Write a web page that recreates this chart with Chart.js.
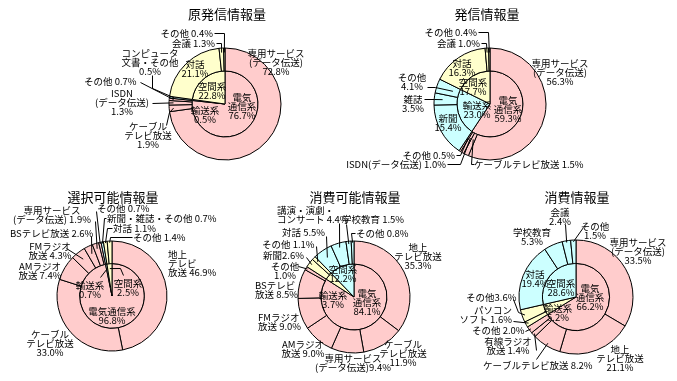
<!DOCTYPE html>
<html>
<head>
<meta charset="utf-8">
<script src="https://cdn.jsdelivr.net/npm/chart.js@4.4.1/dist/chart.umd.min.js"></script>
<style>
  body { margin: 0; background: #fff; }
  canvas { position: absolute; left: 0; top: 0; }
</style>
</head>
<body>
<canvas id="c1" width="677" height="381"></canvas>
<canvas id="c2" width="677" height="381"></canvas>
<canvas id="c3" width="677" height="381"></canvas>
<canvas id="c4" width="677" height="381"></canvas>
<canvas id="c5" width="677" height="381"></canvas>
<script>
// inner pie categories (same for every chart)
var innerLabels = ["電気通信系", "輸送系", "空間系"];

// 原発信情報量
var genLabels = ["専用サービス(データ伝送)", "ケーブルテレビ放送", "ISDN(データ伝送)", "その他", "コンピュータ文書・その他", "対話", "会議", "その他"];
var genValues = [72.8, 1.9, 1.3, 0.7, 0.5, 21.1, 1.3, 0.4];
var genGroups = [0, 0, 0, 0, 1, 2, 2, 2];
var genInner = [76.7, 0.5, 22.8];

// 発信情報量
var sendLabels = ["専用サービス(データ伝送)", "ケーブルテレビ放送", "ISDN(データ伝送)", "その他", "新聞", "雑誌", "その他", "対話", "会議", "その他"];
var sendValues = [56.3, 1.5, 1.0, 0.5, 15.4, 3.5, 4.1, 16.3, 1.0, 0.4];
var sendGroups = [0, 0, 0, 0, 1, 1, 1, 2, 2, 2];
var sendInner = [59.3, 23.0, 17.7];

// 選択可能情報量
var selLabels = ["地上テレビ放送", "ケーブルテレビ放送", "AMラジオ放送", "FMラジオ放送", "BSテレビ放送", "専用サービス(データ伝送)", "その他", "新聞・雑誌・その他", "対話", "その他"];
var selValues = [46.9, 33.0, 7.4, 4.3, 2.6, 1.9, 0.7, 0.7, 1.1, 1.4];
var selGroups = [0, 0, 0, 0, 0, 0, 0, 1, 2, 2];
var selInner = [96.8, 0.7, 2.5];

// 消費可能情報量
var availLabels = ["地上テレビ放送", "ケーブルテレビ放送", "専用サービス(データ伝送)", "AMラジオ放送", "FMラジオ放送", "BSテレビ放送", "その他", "新聞", "その他", "対話", "講演・演劇・コンサート", "学校教育", "その他"];
var availValues = [35.3, 11.9, 9.4, 9.0, 9.0, 8.5, 1.0, 2.6, 1.1, 5.5, 4.4, 1.5, 0.8];
var availGroups = [0, 0, 0, 0, 0, 0, 0, 1, 1, 2, 2, 2, 2];
var availInner = [84.1, 3.7, 12.2];

// 消費情報量
var consLabels = ["専用サービス(データ伝送)", "地上テレビ放送", "ケーブルテレビ放送", "有線ラジオ放送", "その他", "パソコンソフト", "その他", "対話", "学校教育", "会議", "その他"];
var consValues = [33.5, 21.1, 8.2, 1.4, 2.0, 1.6, 3.6, 19.4, 5.3, 2.4, 1.5];
var consGroups = [0, 0, 0, 0, 0, 1, 1, 2, 2, 2, 2];
var consInner = [66.2, 5.2, 28.6];

var PINK = "#ffcccc", YELLOW = "#ffffcc", CYAN = "#ccffff";

function labelPlugin(spec) {
    return {
        id: "pieLabels",
        afterDraw: function (chart) {
            var ctx = chart.ctx;
            ctx.save();
            ctx.fillStyle = "#000";
            ctx.textBaseline = "middle";
            ctx.font = '13px "Noto Sans CJK JP"';
            ctx.textAlign = "center";
            ctx.fillText(spec.title, spec.titleX, spec.titleY);

            ctx.font = '9.5px "Noto Sans CJK JP"';
            ctx.strokeStyle = "#000";
            ctx.lineWidth = 1;
            spec.layout.forEach(function (l) {
                var ds = l.ds || 0;
                var values = ds === 0 ? spec.values : spec.inner;
                var el = chart.getDatasetMeta(ds).data[l.i];
                var txt = l.t.replace("{v}", values[l.i].toFixed(1) + "%");
                ctx.textAlign = l.a || "center";
                txt.split("\n").forEach(function (s, k) {
                    ctx.fillText(s, l.x, l.y + k * 9);
                });
                if (l.line) {
                    var mid = (el.startAngle + el.endAngle) / 2;
                    var rr = spec.r * (l.r || 0.92);
                    ctx.beginPath();
                    ctx.moveTo(l.line[0][0] + 0.5, l.line[0][1] + 0.5);
                    for (var j = 1; j < l.line.length; j++) {
                        ctx.lineTo(l.line[j][0] + 0.5, l.line[j][1] + 0.5);
                    }
                    ctx.lineTo(el.x + Math.cos(mid) * rr, el.y + Math.sin(mid) * rr);
                    ctx.stroke();
                }
            });
            ctx.restore();
        }
    };
}

function makePie(id, spec) {
    var W = 677, H = 381, box = 70;
    var colours = spec.colours;
    return new Chart(document.getElementById(id), {
        type: "doughnut",
        data: {
            labels: spec.labels,
            datasets: [
                {
                    data: spec.values,
                    backgroundColor: spec.groups.map(function (g) { return colours[g]; }),
                    borderColor: "#000",
                    borderWidth: 1,
                    weight: 23
                },
                {
                    labels: innerLabels,
                    data: spec.inner,
                    backgroundColor: colours,
                    borderColor: "#000",
                    borderWidth: 1,
                    weight: 33
                }
            ]
        },
        options: {
            responsive: false,
            animation: false,
            events: [],
            cutout: 0,
            radius: spec.r,
            layout: {
                padding: { left: spec.cx - box, right: W - spec.cx - box, top: spec.cy - box, bottom: H - spec.cy - box }
            },
            plugins: { legend: { display: false }, tooltip: { enabled: false } }
        },
        plugins: [labelPlugin(spec)]
    });
}

makePie("c1", {
    title: "原発信情報量", titleX: 227, titleY: 14,
    cx: 225, cy: 104, r: 56,
    labels: genLabels, values: genValues, groups: genGroups, inner: genInner,
    colours: [PINK, CYAN, YELLOW],
    layout: [
        { i: 0, t: "専用サービス\n(データ伝送)\n{v}", x: 276, y: 53 },
        { i: 1, t: "ケーブル\nテレビ放送\n{v}", x: 148, y: 126, line: [[166, 125], [169, 112]] },
        { i: 2, t: "ISDN\n(データ伝送)\n{v}", x: 122, y: 93, line: [[152, 103]] },
        { i: 3, t: "その他 {v}", x: 84, y: 81, a: "left", line: [[140, 82]] },
        { i: 4, t: "コンピュータ\n文書・その他\n{v}", x: 150, y: 53, line: [[152, 75], [152, 88]] },
        { i: 5, t: "対話\n{v}", x: 195, y: 64 },
        { i: 6, t: "会議 {v}", x: 215, y: 43, a: "right", line: [[216, 43], [221, 43]] },
        { i: 7, t: "その他 {v}", x: 213, y: 33, a: "right", line: [[214, 33], [224, 33]] },
        { ds: 1, i: 0, t: "電気\n通信系\n{v}", x: 242, y: 97 },
        { ds: 1, i: 1, t: "輸送系\n{v}", x: 205, y: 110 },
        { ds: 1, i: 2, t: "空間系\n{v}", x: 212, y: 86 }
    ]
});

makePie("c2", {
    title: "発信情報量", titleX: 487, titleY: 14,
    cx: 490, cy: 104, r: 56,
    labels: sendLabels, values: sendValues, groups: sendGroups, inner: sendInner,
    colours: [PINK, CYAN, YELLOW],
    layout: [
        { i: 0, t: "専用サービス\n(データ伝送)\n{v}", x: 560, y: 63 },
        { i: 1, t: "ケーブルテレビ放送 {v}", x: 474, y: 164, a: "left", line: [[474, 164], [471, 164]], r: 0.7 },
        { i: 2, t: "ISDN(データ伝送) {v}", x: 446, y: 164, a: "right", line: [[447, 164], [460, 164]], r: 0.7 },
        { i: 3, t: "その他 {v}", x: 455, y: 155, a: "right", line: [[456, 155], [460, 155]], r: 0.72 },
        { i: 4, t: "新聞\n{v}", x: 448, y: 118 },
        { i: 5, t: "雑誌\n{v}", x: 413, y: 99, line: [[424, 99], [434, 99]], r: 0.85 },
        { i: 6, t: "その他\n{v}", x: 412, y: 77, line: [[427, 87], [435, 87]], r: 0.7 },
        { i: 7, t: "対話\n{v}", x: 462, y: 63 },
        { i: 8, t: "会議 {v}", x: 480, y: 43, a: "right", line: [[481, 43], [486, 43]] },
        { i: 9, t: "その他 {v}", x: 477, y: 32, a: "right", line: [[478, 32], [488, 32]] },
        { ds: 1, i: 0, t: "電気\n通信系\n{v}", x: 508, y: 100 },
        { ds: 1, i: 1, t: "輸送系\n{v}", x: 477, y: 105 },
        { ds: 1, i: 2, t: "空間系\n{v}", x: 473, y: 82 }
    ]
});

makePie("c3", {
    title: "選択可能情報量", titleX: 113, titleY: 197,
    cx: 112, cy: 296, r: 55,
    labels: selLabels, values: selValues, groups: selGroups, inner: selInner,
    colours: [PINK, CYAN, YELLOW],
    layout: [
        { i: 0, t: "地上\nテレビ\n放送 {v}", x: 168, y: 254, a: "left" },
        { i: 1, t: "ケーブル\nテレビ放送\n{v}", x: 50, y: 334 },
        { i: 2, t: "AMラジオ\n放送 {v}", x: 40, y: 266 },
        { i: 3, t: "FMラジオ\n放送 {v}", x: 50, y: 246, line: [[66, 248]], r: 0.85 },
        { i: 4, t: "BSテレビ放送 {v}", x: 10, y: 233, a: "left", line: [[91, 236]], r: 0.85 },
        { i: 5, t: "専用サービス\n(データ伝送) {v}", x: 52, y: 210, line: [[95, 221]], r: 0.9 },
        { i: 6, t: "その他 {v}", x: 97, y: 208, a: "left", line: [[96, 211]], r: 0.97 },
        { i: 7, t: "新聞・雑誌・その他 {v}", x: 107, y: 218, a: "left", line: [[106, 218], [104, 218]], r: 0.97 },
        { i: 8, t: "対話 {v}", x: 113, y: 228, a: "left", line: [[112, 228], [107, 228]], r: 0.97 },
        { i: 9, t: "その他 {v}", x: 133, y: 237, a: "left", line: [[132, 237], [110, 237]], r: 0.97 },
        { ds: 1, i: 0, t: "電気通信系\n{v}", x: 112, y: 311 },
        { ds: 1, i: 1, t: "輸送系\n{v}", x: 90, y: 285, line: [[100, 277]], r: 0.5 },
        { ds: 1, i: 2, t: "空間系\n{v}", x: 128, y: 283, line: [[123, 275], [120, 268]], r: 0.5 }
    ]
});

makePie("c4", {
    title: "消費可能情報量", titleX: 355, titleY: 197,
    cx: 354, cy: 297, r: 56,
    labels: availLabels, values: availValues, groups: availGroups, inner: availInner,
    colours: [PINK, YELLOW, CYAN],
    layout: [
        { i: 0, t: "地上\nテレビ放送\n{v}", x: 418, y: 247 },
        { i: 1, t: "ケーブル\nテレビ放送\n{v}", x: 403, y: 344 },
        { i: 2, t: "専用サービス\n(データ伝送){v}", x: 353, y: 358 },
        { i: 3, t: "AMラジオ\n放送 {v}", x: 303, y: 344 },
        { i: 4, t: "FMラジオ\n放送 {v}", x: 258, y: 317, a: "left" },
        { i: 5, t: "BSテレビ\n放送 {v}", x: 255, y: 285, a: "left" },
        { i: 6, t: "その他\n{v}", x: 285, y: 266, line: [[298, 266]], r: 0.97 },
        { i: 7, t: "新聞{v}", x: 263, y: 255, a: "left", line: [[306, 257]], r: 0.95 },
        { i: 8, t: "その他 {v}", x: 262, y: 244, a: "left", line: [[316, 246]], r: 0.9 },
        { i: 9, t: "対話 {v}", x: 282, y: 232, a: "left", line: [[326, 236]], r: 0.85 },
        { i: 10, t: "講演・演劇・\nコンサート {v}", x: 277, y: 210, a: "left", line: [[339, 223]], r: 0.92 },
        { i: 11, t: "学校教育 {v}", x: 342, y: 219, a: "left", line: [[346, 224]], r: 0.95 },
        { i: 12, t: "その他 {v}", x: 356, y: 233, a: "left", line: [[355, 233], [351, 233]], r: 0.97 },
        { ds: 1, i: 0, t: "電気\n通信系\n{v}", x: 367, y: 293 },
        { ds: 1, i: 1, t: "輸送系\n{v}", x: 333, y: 295 },
        { ds: 1, i: 2, t: "空間系\n{v}", x: 343, y: 269 }
    ]
});

makePie("c5", {
    title: "消費情報量", titleX: 577, titleY: 197,
    cx: 576, cy: 297, r: 57,
    labels: consLabels, values: consValues, groups: consGroups, inner: consInner,
    colours: [PINK, YELLOW, CYAN],
    layout: [
        { i: 0, t: "専用サービス\n(データ伝送)\n{v}", x: 638, y: 242 },
        { i: 1, t: "地上\nテレビ放送\n{v}", x: 620, y: 349 },
        { i: 2, t: "ケーブルテレビ放送 {v}", x: 483, y: 365, a: "left", line: [[536, 359]], r: 0.95 },
        { i: 3, t: "有線ラジオ\n放送 {v}", x: 508, y: 341, line: [[536, 350]], r: 0.97 },
        { i: 4, t: "その他 {v}", x: 472, y: 330, a: "left", line: [[525, 331]], r: 0.97 },
        { i: 5, t: "パソコン\nソフト {v}", x: 512, y: 310, a: "right", line: [[513, 321]], r: 0.95 },
        { i: 6, t: "その他{v}", x: 466, y: 297, a: "left", line: [[513, 299], [518, 312]], r: 0.95 },
        { i: 7, t: "対話\n{v}", x: 535, y: 274 },
        { i: 8, t: "学校教育\n{v}", x: 532, y: 232 },
        { i: 9, t: "会議\n{v}", x: 560, y: 212, line: [[565, 224]], r: 0.97 },
        { i: 10, t: "その他\n{v}", x: 595, y: 226, line: [[583, 227]], r: 0.97 },
        { ds: 1, i: 0, t: "電気\n通信系\n{v}", x: 590, y: 288 },
        { ds: 1, i: 1, t: "輸送系\n{v}", x: 558, y: 308 },
        { ds: 1, i: 2, t: "空間系\n{v}", x: 561, y: 283 }
    ]
});
</script>
</body>
</html>
